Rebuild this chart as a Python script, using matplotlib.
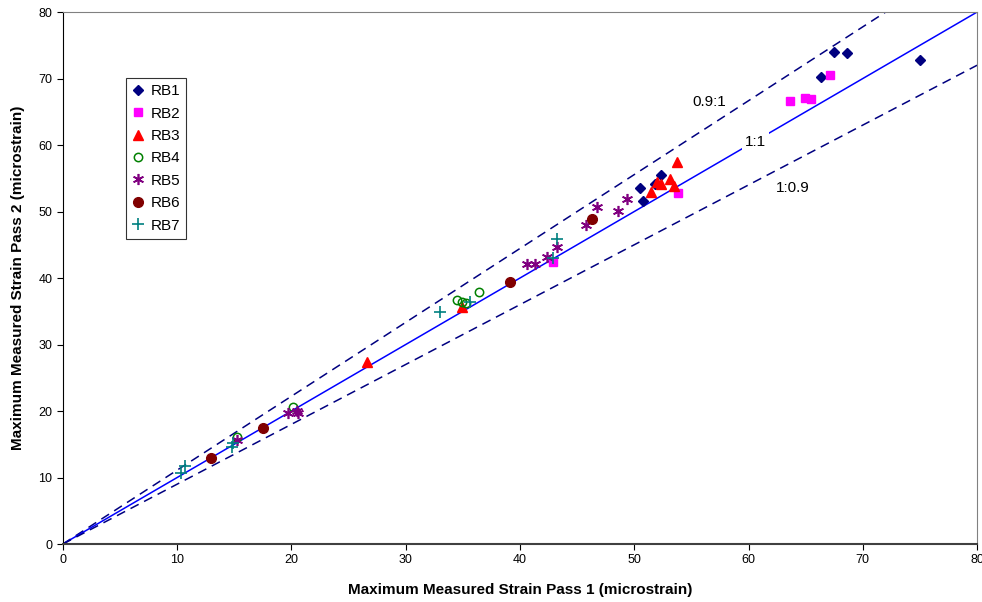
import numpy as np
import matplotlib.pyplot as plt

plt.rcParams['font.family'] = ['Liberation Sans', 'DejaVu Sans']

# data (pass 1, pass 2)
rb1_x = [67.5, 68.6, 66.3, 75.0, 50.5, 50.8, 52.3, 51.8]
rb1_y = [74.0, 73.8, 70.2, 72.8, 53.5, 51.6, 55.5, 54.1]
rb2_x = [67.1, 63.6, 64.9, 65.5, 53.8, 42.9]
rb2_y = [70.5, 66.6, 67.1, 66.9, 52.8, 42.4]
rb3_x = [53.7, 51.5, 52.0, 52.3, 53.1, 53.5, 26.6, 34.9]
rb3_y = [57.4, 52.9, 54.4, 54.1, 54.9, 53.8, 27.4, 35.6]
rb4_x = [34.5, 34.9, 35.3, 36.4, 15.2, 20.1]
rb4_y = [36.7, 36.4, 36.2, 37.9, 16.1, 20.6]
rb5_x = [40.6, 41.3, 42.4, 43.2, 45.8, 46.7, 48.6, 49.4, 19.7, 20.5, 20.6, 15.2]
rb5_y = [42.1, 42.1, 43.2, 44.7, 48.0, 50.7, 50.1, 51.9, 19.7, 20.0, 19.7, 15.6]
rb6_x = [13.0, 17.5, 39.1, 46.3]
rb6_y = [12.9, 17.4, 39.4, 48.9]
rb7_x = [10.7, 10.3, 14.8, 14.9, 33.0, 35.6, 43.2, 42.9]
rb7_y = [11.7, 10.7, 14.6, 15.2, 34.9, 36.4, 45.9, 43.0]

fig = plt.figure(figsize=(9.82, 6.02), dpi=100)
ax = fig.add_axes([0.064, 0.0963, 0.931, 0.8837])

xx = np.array([0, 80])
ax.plot(xx, xx / 0.9, ls=(0, (6, 4)), color='#000080', lw=1.1, zorder=1)
ax.plot(xx, xx, color='#0000FF', lw=1.1, zorder=1)
ax.plot(xx, xx * 0.9, ls=(0, (6, 4)), color='#000080', lw=1.1, zorder=1)

ax.plot(rb1_x, rb1_y, 'D', color='#000080', ms=5, ls='none', label='RB1')
ax.plot(rb2_x, rb2_y, 's', color='#FF00FF', ms=6, ls='none', label='RB2')
ax.plot(rb3_x, rb3_y, '^', color='#FF0000', ms=7, ls='none', label='RB3')
ax.plot(rb4_x, rb4_y, 'o', mfc='none', mec='#008000', ms=6, mew=1.1, ls='none', label='RB4')
ax.plot(rb5_x, rb5_y, marker=(6, 2, 0), color='#800080', ms=8, mew=1.2, ls='none', label='RB5')
ax.plot(rb6_x, rb6_y, 'o', color='#800000', ms=7, ls='none', label='RB6')
ax.plot(rb7_x, rb7_y, '+', color='#008080', ms=8, mew=1.2, ls='none', label='RB7')

ax.text(56.6, 66.5, '0.9:1', fontsize=11, ha='center', va='center')
ax.text(60.6, 60.5, '1:1', fontsize=11, ha='center', va='center',
        bbox=dict(facecolor='white', edgecolor='none', pad=2))
ax.text(63.9, 53.5, '1:0.9', fontsize=11, ha='center', va='center')

ax.set_xlim(0, 80)
ax.set_ylim(0, 80)
ax.set_xticks(range(0, 81, 10))
ax.set_yticks(range(0, 81, 10))
ax.tick_params(direction='out', length=4, labelsize=9)
ax.set_xlabel('Maximum Measured Strain Pass 1 (microstrain)', fontsize=11, fontweight='bold', labelpad=12)
ax.set_ylabel('Maximum Measured Strain Pass 2 (microstrain)', fontsize=11, fontweight='bold', labelpad=10)
for s in ax.spines.values():
    s.set_color('#808080')
ax.spines['bottom'].set_color('#404040')
ax.spines['bottom'].set_linewidth(1.5)
ax.spines['left'].set_color('black')

leg = ax.legend(loc='upper left', bbox_to_anchor=(0.069, 0.876), fontsize=11, frameon=True,
                fancybox=False, edgecolor='black', handlelength=0.8, handletextpad=0.4,
                borderpad=0.4, labelspacing=0.55, borderaxespad=0)
leg.get_frame().set_linewidth(0.8)

fig.savefig('out.png', dpi=100)
